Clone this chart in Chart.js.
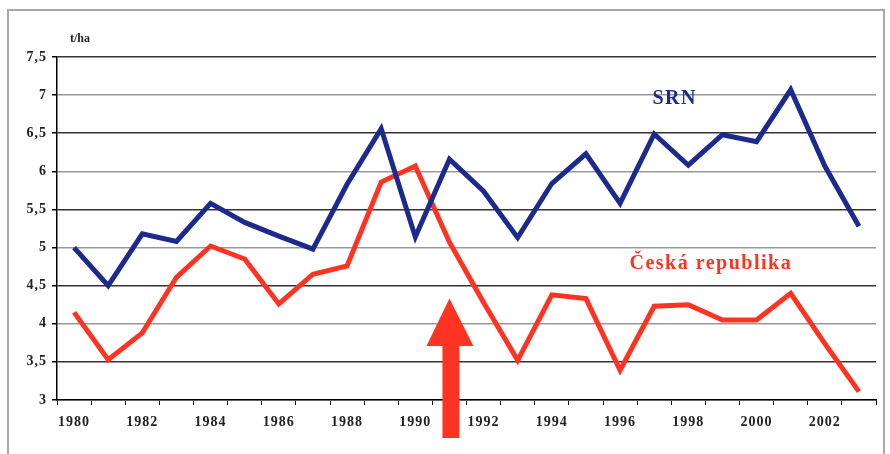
<!DOCTYPE html>
<html>
<head>
<meta charset="utf-8">
<script src="https://cdn.jsdelivr.net/npm/chart.js@4/dist/chart.umd.min.js"></script>
<style>
  html, body { margin: 0; padding: 0; background: #fff; }
  #wrap { position: relative; width: 890px; height: 454px; overflow: hidden; }
  #frame { position: absolute; left: 7px; top: 9px; width: 874px; height: 470px; border: 2px solid #a8a8a8; }
  canvas { position: absolute; left: 0; top: 0; }
</style>
</head>
<body>
<div id="wrap">
  <div id="frame"></div>
  <canvas id="chart" width="890" height="454"></canvas>
</div>
<script>
const years = ['1980', '1981', '1982', '1983', '1984', '1985', '1986', '1987', '1988', '1989', '1990', '1991',
  '1992', '1993', '1994', '1995', '1996', '1997', '1998', '1999', '2000', '2001', '2002', '2003'];
const srn = [5.0, 4.5, 5.18, 5.08, 5.58, 5.33, 5.15, 4.98, 5.83, 6.56, 5.14, 6.16,
  5.74, 5.13, 5.84, 6.23, 5.58, 6.49, 6.08, 6.48, 6.39, 7.07, 6.07, 5.28];
const cr = [4.15, 3.53, 3.88, 4.61, 5.02, 4.85, 4.26, 4.65, 4.76, 5.86, 6.07, 5.07,
  4.28, 3.52, 4.38, 4.33, 3.39, 4.23, 4.25, 4.05, 4.05, 4.40, 3.74, 3.11];
const yTicks = [3, 3.5, 4, 4.5, 5, 5.5, 6, 6.5, 7, 7.5];

const BLUE = '#1b2a8c';
const RED = '#ff3322';
const serif = '"Liberation Serif", "Times New Roman", serif';

// labels and the arrow drawn on top of the chart
const extras = {
  id: 'extras',
  beforeDraw(chart) {
    chart.ctx.letterSpacing = '1px';
  },
  afterDraw(chart) {
    const { ctx, scales: { x, y } } = chart;
    ctx.save();
    ctx.textAlign = 'center';
    ctx.textBaseline = 'alphabetic';

    ctx.letterSpacing = '0px';
    ctx.fillStyle = '#222';
    ctx.font = 'bold 12px ' + serif;
    ctx.fillText('t/ha', 80, 42);

    ctx.letterSpacing = '1.5px';
    ctx.font = 'bold 20px ' + serif;
    ctx.fillStyle = BLUE;
    ctx.fillText('SRN', x.getPixelForValue(17.6), y.getPixelForValue(6.9) + 1);
    ctx.fillStyle = RED;
    ctx.fillText('Česká republika', x.getPixelForValue(18.66), y.getPixelForValue(4.72));

    // arrow under 1991
    const ax = x.getPixelForValue(11);
    const tip = y.getPixelForValue(4.33);
    const headBase = y.getPixelForValue(3.71);
    const bottom = y.getPixelForValue(2.5);
    ctx.fillStyle = RED;
    ctx.beginPath();
    ctx.moveTo(ax, tip);
    ctx.lineTo(ax + 24, headBase);
    ctx.lineTo(ax + 10, headBase);
    ctx.lineTo(ax + 10, bottom);
    ctx.lineTo(ax - 7, bottom);
    ctx.lineTo(ax - 7, headBase);
    ctx.lineTo(ax - 23, headBase);
    ctx.closePath();
    ctx.fill();
    ctx.restore();
  }
};

new Chart(document.getElementById('chart'), {
  type: 'line',
  data: {
    labels: years,
    datasets: [
      { label: 'SRN', data: srn, borderColor: BLUE, borderWidth: 5, pointRadius: 0, tension: 0 },
      { label: 'Česká republika', data: cr, borderColor: RED, borderWidth: 5, pointRadius: 0, tension: 0 }
    ]
  },
  options: {
    responsive: false,
    animation: false,
    layout: { padding: { left: 0, top: 57, right: 14, bottom: 0 } },
    plugins: { legend: { display: false }, tooltip: { enabled: false } },
    scales: {
      x: {
        offset: true,
        afterFit: s => { s.height = 54; },
        grid: { offset: true, drawOnChartArea: false, color: '#000', tickLength: 5 },
        border: { color: '#000', width: 1.5 },
        ticks: {
          autoSkip: false, maxRotation: 0, padding: 9, color: '#222',
          font: { family: serif, size: 14, weight: 'bold' },
          callback: (v, i) => (i % 2 === 0 ? years[i] : '')
        }
      },
      y: {
        min: 3, max: 7.5,
        afterFit: s => { s.width = 57; },
        afterBuildTicks: s => { s.ticks = yTicks.map(v => ({ value: v })); },
        grid: {
          color: c => (c.index % 2 === 1 ? '#333' : '#999'),
          lineWidth: 1.5,
          tickColor: '#000',
          tickLength: 5
        },
        border: { color: '#000', width: 1.5 },
        ticks: {
          padding: 5, color: '#222',
          font: { family: serif, size: 14, weight: 'bold' },
          callback: v => String(v).replace('.', ',')
        }
      }
    }
  },
  plugins: [extras]
});
</script>
</body>
</html>
